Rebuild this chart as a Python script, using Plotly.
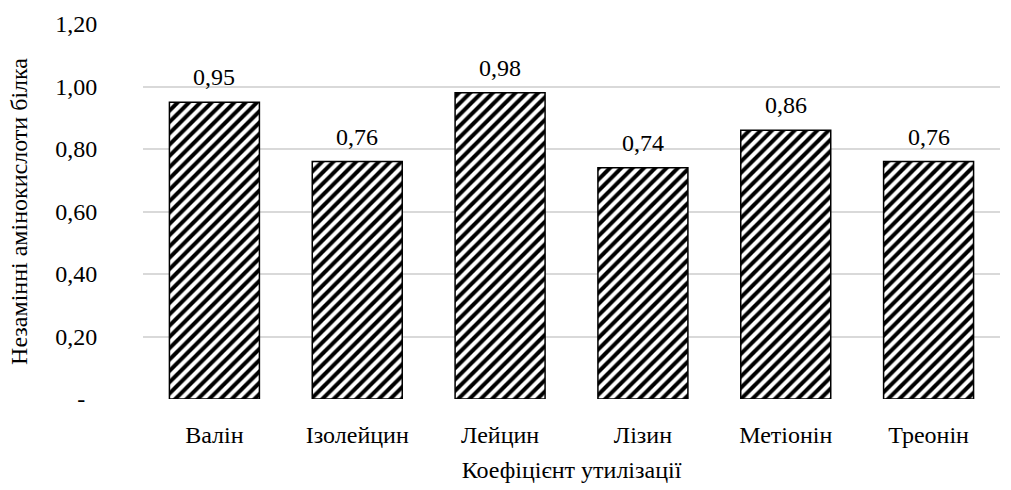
import plotly.graph_objects as go

# Amino acids and their utilisation coefficients
categories = ["Валін", "Ізолейцин", "Лейцин", "Лізин", "Метіонін", "Треонін"]
values = [0.95, 0.76, 0.98, 0.74, 0.86, 0.76]

y_tickvals = [0, 0.2, 0.4, 0.6, 0.8, 1.0, 1.2]
y_ticktext = ["-\u00a0\u00a0", "0,20", "0,40", "0,60", "0,80", "1,00", "1,20"]

def fmt(v):
    return f"{v:.2f}".replace(".", ",")

FS = 24
TXT = dict(family="'Liberation Serif', 'Times New Roman', Times, serif", size=FS, color="#000000")

fig = go.Figure(
    go.Bar(
        x=categories,
        y=values,
        marker=dict(
            color="white",
            line=dict(color="#000000", width=1.5),
            pattern=dict(shape="/", size=8, solidity=0.5,
                         fgcolor="#000000", bgcolor="white", fgopacity=1),
        ),
    )
)

# value labels above each bar
for c, v in zip(categories, values):
    fig.add_annotation(x=c, y=v, text=fmt(v), showarrow=False,
                       yanchor="bottom", yshift=10, font=TXT)

fig.update_layout(
    width=1011,
    height=490,
    margin=dict(l=143, r=11, t=22, b=81),
    paper_bgcolor="white",
    plot_bgcolor="white",
    bargap=0.37,
    showlegend=False,
    font=TXT,
    xaxis=dict(
        showgrid=False,
        showline=False,
        zeroline=False,
        ticks="outside",
        ticklen=14,
        tickcolor="rgba(0,0,0,0)",
        tickfont=TXT,
        title=dict(text="Коефіцієнт утилізації", font=TXT, standoff=14),
    ),
    yaxis=dict(
        range=[0, 1.2],
        tickvals=y_tickvals,
        ticktext=y_ticktext,
        showgrid=True,
        gridcolor="#d9d9d9",
        gridwidth=2,
        zeroline=False,
        showline=False,
        ticks="outside",
        ticklen=40,
        tickcolor="rgba(0,0,0,0)",
        tickfont=TXT,
        title=dict(text="Незамінні амінокислоти білка", font=TXT, standoff=20),
    ),
)

fig.write_html("out.html")
